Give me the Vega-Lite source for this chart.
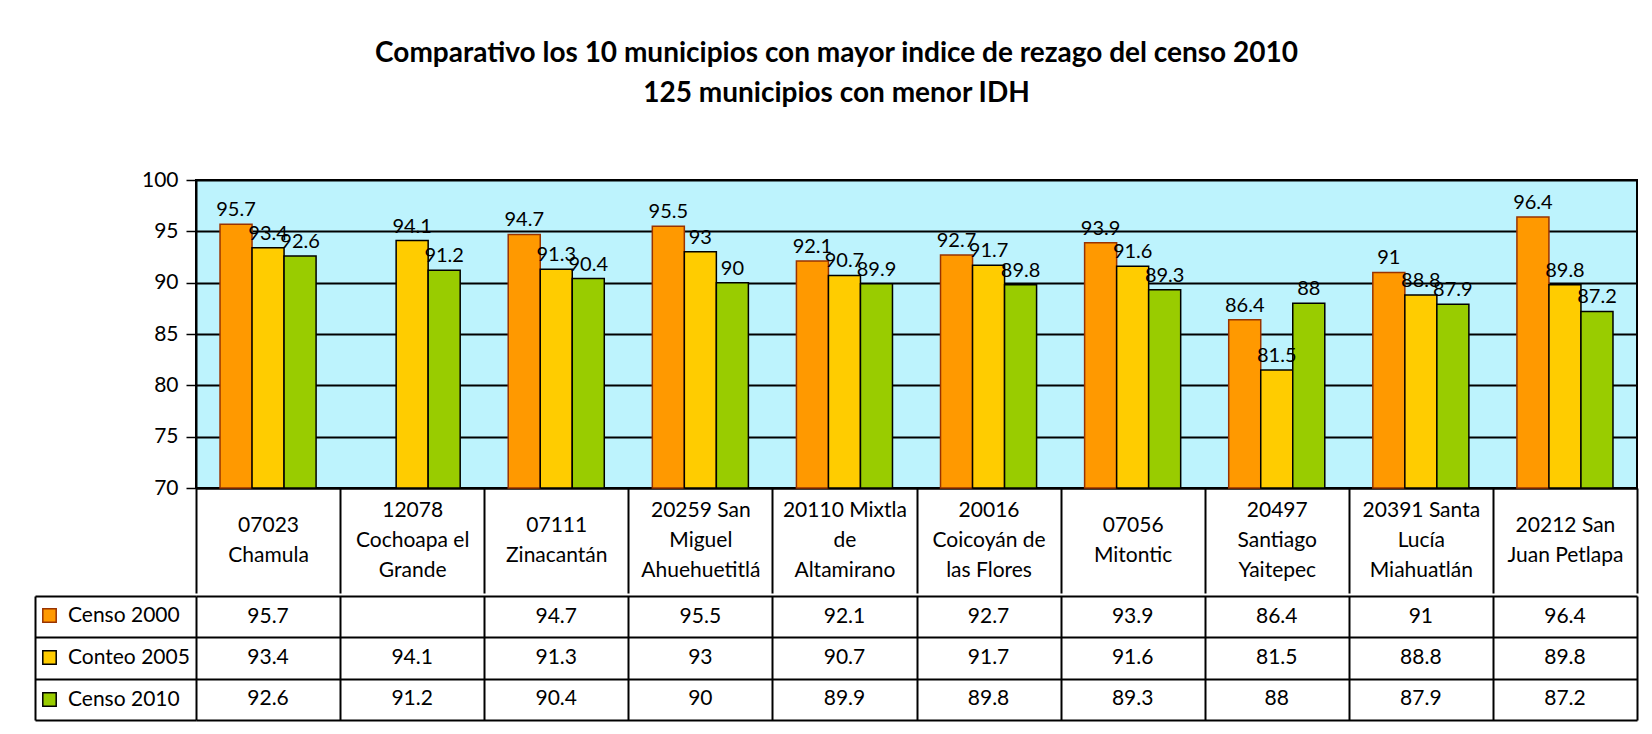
{
  "$schema": "https://vega.github.io/schema/vega-lite/v6.json",
  "padding": {"left": 34, "top": 40, "right": 5, "bottom": 5},
  "background": "white",
  "spacing": 0,
  "title": {
    "text": ["Comparativo los 10 municipios con mayor indice de rezago del censo 2010", "125 municipios con menor IDH"],
    "font": "Lato",
    "fontSize": 28,
    "fontWeight": "bold",
    "color": "black",
    "lineHeight": 40,
    "anchor": "middle",
    "offset": 60
  },
  "datasets": {
    "idx": [
      {"municipio": "07023\nChamula", "serie": "Censo 2000", "valor": 95.7},
      {"municipio": "07023\nChamula", "serie": "Conteo 2005", "valor": 93.4},
      {"municipio": "07023\nChamula", "serie": "Censo 2010", "valor": 92.6},
      {"municipio": "12078\nCochoapa el\nGrande", "serie": "Conteo 2005", "valor": 94.1},
      {"municipio": "12078\nCochoapa el\nGrande", "serie": "Censo 2010", "valor": 91.2},
      {"municipio": "07111\nZinacantán", "serie": "Censo 2000", "valor": 94.7},
      {"municipio": "07111\nZinacantán", "serie": "Conteo 2005", "valor": 91.3},
      {"municipio": "07111\nZinacantán", "serie": "Censo 2010", "valor": 90.4},
      {"municipio": "20259 San\nMiguel\nAhuehuetitlá", "serie": "Censo 2000", "valor": 95.5},
      {"municipio": "20259 San\nMiguel\nAhuehuetitlá", "serie": "Conteo 2005", "valor": 93},
      {"municipio": "20259 San\nMiguel\nAhuehuetitlá", "serie": "Censo 2010", "valor": 90},
      {"municipio": "20110 Mixtla\nde\nAltamirano", "serie": "Censo 2000", "valor": 92.1},
      {"municipio": "20110 Mixtla\nde\nAltamirano", "serie": "Conteo 2005", "valor": 90.7},
      {"municipio": "20110 Mixtla\nde\nAltamirano", "serie": "Censo 2010", "valor": 89.9},
      {"municipio": "20016\nCoicoyán de\nlas Flores", "serie": "Censo 2000", "valor": 92.7},
      {"municipio": "20016\nCoicoyán de\nlas Flores", "serie": "Conteo 2005", "valor": 91.7},
      {"municipio": "20016\nCoicoyán de\nlas Flores", "serie": "Censo 2010", "valor": 89.8},
      {"municipio": "07056\nMitontic", "serie": "Censo 2000", "valor": 93.9},
      {"municipio": "07056\nMitontic", "serie": "Conteo 2005", "valor": 91.6},
      {"municipio": "07056\nMitontic", "serie": "Censo 2010", "valor": 89.3},
      {"municipio": "20497\nSantiago\nYaitepec", "serie": "Censo 2000", "valor": 86.4},
      {"municipio": "20497\nSantiago\nYaitepec", "serie": "Conteo 2005", "valor": 81.5},
      {"municipio": "20497\nSantiago\nYaitepec", "serie": "Censo 2010", "valor": 88},
      {"municipio": "20391 Santa\nLucía\nMiahuatlán", "serie": "Censo 2000", "valor": 91},
      {"municipio": "20391 Santa\nLucía\nMiahuatlán", "serie": "Conteo 2005", "valor": 88.8},
      {"municipio": "20391 Santa\nLucía\nMiahuatlán", "serie": "Censo 2010", "valor": 87.9},
      {"municipio": "20212 San\nJuan Petlapa", "serie": "Censo 2000", "valor": 96.4},
      {"municipio": "20212 San\nJuan Petlapa", "serie": "Conteo 2005", "valor": 89.8},
      {"municipio": "20212 San\nJuan Petlapa", "serie": "Censo 2010", "valor": 87.2}
    ]
  },
  "vconcat": [
    {
      "width": 1441,
      "height": 308,
      "data": {"name": "idx"},
      "view": {"fill": "#bdf3fd", "stroke": "black", "strokeWidth": 2},
      "encoding": {
        "x": {
          "field": "municipio", "type": "nominal", "sort": null,
          "scale": {"paddingInner": 0, "paddingOuter": 0},
          "axis": {
            "title": null, "labelAngle": 0, "labelExpr": "split(datum.label, '\\n')",
            "labelFont": "Lato", "labelFontSize": 21, "labelColor": "black", "labelLineHeight": 30,
            "labelBaseline": {"condition": {"test": "length(split(datum.label, '\\n')) > 2", "value": "middle"}, "value": "line-top"},
            "labelPadding": -83, "labelLimit": 200,
            "tickBand": "extent", "ticks": true, "tickSize": 105, "tickColor": "black", "tickWidth": 2,
            "domain": true, "domainColor": "black", "domainWidth": 2, "grid": false
          }
        },
        "xOffset": {
          "field": "serie", "type": "nominal",
          "scale": {"domain": ["Censo 2000", "Conteo 2005", "Censo 2010"], "paddingInner": 0, "paddingOuter": 0.75}
        },
        "y": {
          "field": "valor", "type": "quantitative",
          "scale": {"domain": [70, 100], "nice": false, "zero": false},
          "axis": {
            "title": null, "values": [70, 75, 80, 85, 90, 95, 100],
            "labelFont": "Lato", "labelFontSize": 21, "labelColor": "black", "labelPadding": 8,
            "tickColor": "black", "tickSize": 10, "tickWidth": 1.5,
            "domainColor": "black", "domainWidth": 2,
            "grid": true, "gridColor": "black", "gridWidth": 2, "gridOpacity": 1
          }
        }
      },
      "layer": [
        {
          "mark": {"type": "bar", "strokeWidth": 1.5},
          "encoding": {
            "y2": {"datum": 70},
            "color": {
              "field": "serie", "type": "nominal",
              "scale": {"domain": ["Censo 2000", "Conteo 2005", "Censo 2010"], "range": ["#ff9900", "#ffcc00", "#99cc00"]},
              "legend": {"orient": "none", "legendX": -157, "legendY": 425, "title": null, "symbolType": "square", "symbolSize": 180, "symbolStrokeWidth": 1.5, "labelFont": "Lato", "labelFontSize": 21, "labelColor": "black", "rowPadding": 20, "labelOffset": 8, "padding": 0, "direction": "vertical"}
            },
            "stroke": {
              "field": "serie", "type": "nominal",
              "scale": {"domain": ["Censo 2000", "Conteo 2005", "Censo 2010"], "range": ["#993300", "#000000", "#000000"]},
              "legend": {"orient": "none", "legendX": -157, "legendY": 425, "title": null, "symbolType": "square", "symbolSize": 180, "symbolStrokeWidth": 1.5, "labelFont": "Lato", "labelFontSize": 21, "labelColor": "black", "rowPadding": 20, "labelOffset": 8, "padding": 0, "direction": "vertical"}
            }
          }
        },
        {
          "mark": {"type": "text", "baseline": "bottom", "dy": -4, "font": "Lato", "fontSize": 20, "color": "black"},
          "encoding": {"text": {"field": "valor", "type": "quantitative"}}
        }
      ]
    },
    {
      "width": 1441,
      "height": 124,
      "data": {"name": "idx"},
      "view": {"stroke": null},
      "mark": {"type": "text", "font": "Lato", "fontSize": 21, "color": "black"},
      "encoding": {
        "x": {
          "field": "municipio", "type": "nominal", "sort": null,
          "scale": {"paddingInner": 0, "paddingOuter": 0},
          "axis": {"title": null, "labels": false, "ticks": false, "domain": false, "grid": true, "gridColor": "black", "gridWidth": 2, "gridOpacity": 1, "tickBand": "extent"}
        },
        "y": {
          "field": "serie", "type": "nominal",
          "scale": {"domain": ["Censo 2000", "Conteo 2005", "Censo 2010"], "paddingInner": 0, "paddingOuter": 0},
          "axis": {"title": null, "labels": false, "ticks": true, "tickSize": -161, "offset": 161, "tickColor": "black", "tickWidth": 2, "domain": true, "domainColor": "black", "domainWidth": 2, "grid": true, "gridColor": "black", "gridWidth": 2, "gridOpacity": 1, "tickBand": "extent"}
        },
        "text": {"field": "valor", "type": "quantitative"}
      }
    }
  ]
}
